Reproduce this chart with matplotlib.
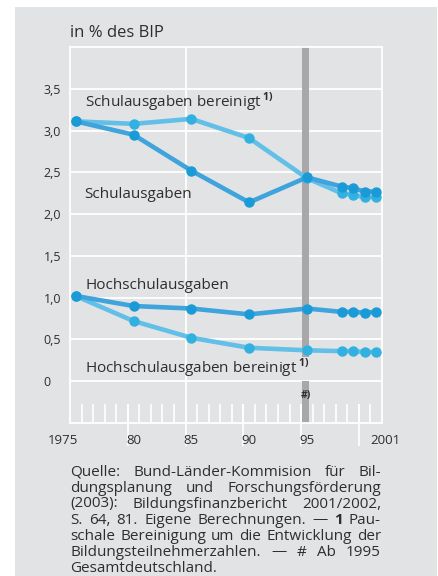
import matplotlib
matplotlib.use("Agg")
import matplotlib.pyplot as plt
from matplotlib.patches import Rectangle
from matplotlib.transforms import blended_transform_factory

plt.rcParams["font.family"] = ["Open Sans", "DejaVu Sans"]
plt.rcParams["mathtext.fontset"] = "custom"
plt.rcParams["mathtext.rm"] = "Open Sans"
plt.rcParams["mathtext.bf"] = "Open Sans:bold"

################## Daten ##################

jahre = [1975, 1980, 1985, 1990, 1995, 1998, 1999, 2000, 2001]
schulausgaben = [3.11, 2.95, 2.52, 2.14, 2.44, 2.33, 2.31, 2.27, 2.27]
schul_bereinigt = [3.11, 3.08, 3.14, 2.91, 2.43, 2.25, 2.23, 2.20, 2.21]
hochschulausgaben = [1.02, 0.90, 0.87, 0.80, 0.87, 0.83, 0.83, 0.82, 0.83]
hoch_bereinigt = [1.02, 0.72, 0.52, 0.40, 0.37, 0.36, 0.36, 0.35, 0.35]

y_ticks = [0, 0.5, 1.0, 1.5, 2.0, 2.5, 3.0, 3.5]
y_labels = ["0", "0,5", "1,0", "1,5", "2,0", "2,5", "3,0", "3,5"]
x_label_pos = [1975.2, 1980, 1985, 1990, 1995, 2000.5]
x_labels = ["1975", "80", "85", "90", "95", "2001"]

quelle = [
    "Quelle: Bund-Länder-Kommision für Bil-",
    "dungsplanung und Forschungsförderung",
    "(2003): Bildungsfinanzbericht 2001/2002,",
    "S. 64, 81. Eigene Berechnungen. — 1 Pau-",
    "schale Bereinigung um die Entwicklung der",
    "Bildungsteilnehmerzahlen. — # Ab 1995",
    "Gesamtdeutschland.",
]

################## Farben ##################

bg = "#e2e3e5"
weiss = "#ffffff"
text_col = "#2e2e30"
dunkel_linie, dunkel_punkt = "#3ea4db", "#1a9bd7"
hell_linie, hell_punkt = "#62bfe7", "#32b1e1"
balken = "#a8a8ab"

################## Grafik ##################

W, H = 438, 576
fig = plt.figure(figsize=(W / 100, H / 100), dpi=100, facecolor="white")
fig.patches.append(Rectangle((15 / W, 0), (437 - 15) / W, 1 - 7 / H,
                             transform=fig.transFigure, facecolor=bg,
                             edgecolor="none", zorder=-10))

ax = fig.add_axes([70 / W, 1 - 423 / H, 312 / W, 376 / H])
ax.set_facecolor(bg)
ax.set_xlim(1974.5, 2001.5)
ax.set_ylim(-0.5, 4.0)
for s in ax.spines.values():
    s.set_color(weiss)
    s.set_linewidth(1.3)

# horizontale Gitterlinien
ax.set_yticks(y_ticks)
ax.set_yticklabels(y_labels)
ax.tick_params(axis="y", length=0, pad=19, labelsize=9, labelcolor=text_col)
for lab in ax.get_yticklabels():
    lab.set_horizontalalignment("left")
ax.set_xticks([])
for y in y_ticks:
    ax.axhline(y, color=weiss, lw=1.3, zorder=1)

# vertikale Linien und Striche
ax.vlines(1984.5, -0.5, 4.0, color=weiss, lw=1.3, zorder=1)
kleine = [1975.5 + i for i in range(26)]
ax.vlines(kleine, -0.5, -0.27, color=weiss, lw=1.2, zorder=1)
ax.vlines([1979.5, 1984.5, 1989.5, 1994.5, 1999.5], -0.78, -0.27,
          color=weiss, lw=1.2, zorder=1, clip_on=False)

# Balken ab 1995
ax.axvspan(1994.55, 1995.2, ymin=(0.29 + 0.5) / 4.5, ymax=1,
           color=balken, lw=0, zorder=2)
ax.axvspan(1994.55, 1995.2, ymin=0, ymax=(0.0 + 0.5) / 4.5,
           color=balken, lw=0, zorder=2)
ax.text(1994.9, -0.17, "#)", ha="center", va="center", fontsize=7.5,
        fontweight="bold", color=text_col, zorder=5)

# Reihen
serien = [
    (schul_bereinigt, hell_linie, hell_punkt),
    (schulausgaben, dunkel_linie, dunkel_punkt),
    (hoch_bereinigt, hell_linie, hell_punkt),
    (hochschulausgaben, dunkel_linie, dunkel_punkt),
]
for werte, lc, pc in serien:
    ax.plot(jahre, werte, color=lc, lw=3.3, solid_capstyle="round", zorder=3)
for werte, lc, pc in serien:
    ax.plot(jahre, werte, linestyle="none", marker="o", markersize=6.5,
            markerfacecolor=pc, markeredgecolor=pc, zorder=4)

# Beschriftungen
lab_kw = dict(ha="left", va="center", fontsize=11, color=text_col, zorder=5)
ax.text(1975.76, 3.34, r"Schulausgaben bereinigt$\,^{\mathbf{1)}}$", **lab_kw)
ax.text(1975.76, 2.24, "Schulausgaben", **lab_kw)
ax.text(1975.8, 1.15, "Hochschulausgaben", **lab_kw)
ax.text(1975.8, 0.15, r"Hochschulausgaben bereinigt$\,^{\mathbf{1)}}$", **lab_kw)

trans = blended_transform_factory(ax.transData, fig.transFigure)
for pos, lab in zip(x_label_pos, x_labels):
    ha = "center"
    if lab == "1975":
        ha = "right"
    elif lab == "2001":
        ha = "left"
    ax.text(pos, 1 - 440 / H, lab, transform=trans, ha=ha, va="center",
            fontsize=9.5, color=text_col)

fig.text(70 / W, 1 - 33 / H, "in % des BIP", ha="left", va="center",
         fontsize=12, color=text_col)

# Quelle als Blocksatz
renderer = fig.canvas.get_renderer()
links, rechts = 70, 381
zeile_y = 472
for i, zeile in enumerate(quelle):
    woerter = zeile.split(" ")
    objs = []
    for w in woerter:
        fw = "bold" if w == "1" else "normal"
        t = fig.text(0, 1 - zeile_y / H, w, ha="left", va="center",
                     fontsize=11, color=text_col, fontweight=fw)
        objs.append(t)
    breiten = [t.get_window_extent(renderer).width for t in objs]
    if i == len(quelle) - 1 or len(objs) == 1:
        luecke = 4
    else:
        luecke = (rechts - links - sum(breiten)) / (len(objs) - 1)
    x = links
    for t, b in zip(objs, breiten):
        t.set_x(x / W)
        x += b + luecke
    zeile_y += 16

fig.savefig("out.png", dpi=100, facecolor="white")
